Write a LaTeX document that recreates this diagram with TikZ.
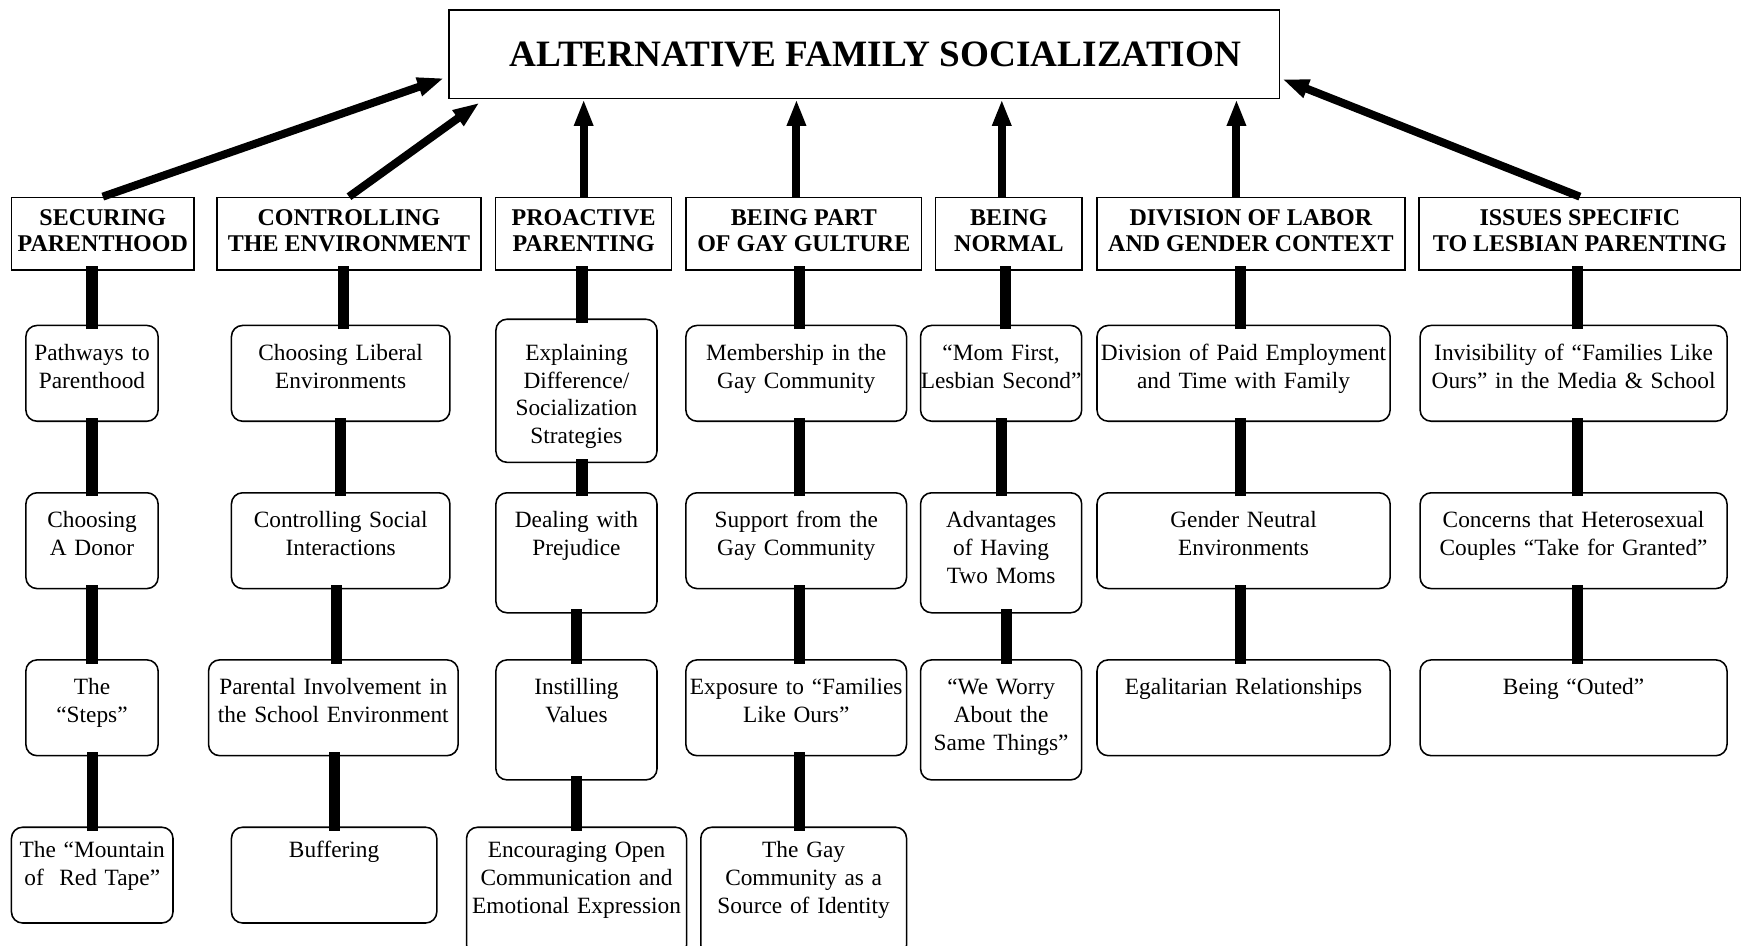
\documentclass[tikz,border=0pt]{standalone}
\usepackage{fontspec}
\setmainfont{Liberation Serif}
\usepackage{tikz}
\usetikzlibrary{positioning, arrows.meta}

\begin{document}
\begin{tikzpicture}[
  x=1pt, y=-1pt,
  title/.style={rectangle, draw, line width=0.7pt, anchor=north west, font=\bfseries\fontsize{16.75}{20}\selectfont, minimum height=39.8pt, inner sep=0pt},
  head/.style={rectangle, draw, line width=0.7pt, anchor=north west, font=\bfseries\fontsize{10.8}{12}\selectfont, align=center, minimum height=32.7pt, inner sep=0pt, text depth=3pt},
  item/.style={rectangle, rounded corners=5pt, draw, line width=0.7pt, anchor=north west, font=\fontsize{10.5}{12.5}\selectfont, align=center, text width=#1, inner xsep=0pt, inner ysep=8.25pt, text height=7.5pt, text depth=19.1pt},
  low/.style={text height=5.5pt, text depth=#1},
  bar/.style={line width=5pt, shorten <=-2pt, shorten >=-2pt},
  arr/.style={-{Triangle[length=12pt, width=8pt]}, line width=3.6pt},
]
\useasboundingbox (0,0) rectangle (783.45,425.25);
\clip (0,0) rectangle (783.45,425.25);

\node[title, minimum width=373.7pt] (title) at (201.8,4.2) {\hspace*{10pt}ALTERNATIVE FAMILY SOCIALIZATION};

\node[head, minimum width=82.2pt] (sec) at (4.8,88.5) {SECURING\\PARENTHOOD};
\node[head, minimum width=118.8pt] (ctl) at (97.3,88.5) {CONTROLLING\\THE ENVIRONMENT};
\node[head, minimum width=79.2pt] (pro) at (222.7,88.5) {PROACTIVE\\PARENTING};
\node[head, minimum width=106.1pt] (gay) at (308.3,88.5) {BEING PART\\OF GAY GULTURE};
\node[head, minimum width=65.9pt] (nor) at (420.7,88.5) {BEING\\NORMAL};
\node[head, minimum width=138.7pt] (div) at (493.2,88.5) {DIVISION OF LABOR\\AND GENDER CONTEXT};
\node[head, minimum width=144.6pt] (iss) at (638.3,88.5) {ISSUES SPECIFIC\\TO LESBIAN PARENTING};

\node[item=59.5pt] (sec1) at (11.3,146.1) {Pathways to\\Parenthood};
\node[item=59.5pt] (sec2) at (11.3,221.4) {Choosing\\A Donor};
\node[item=59.5pt] (sec3) at (11.3,296.6) {The\\“Steps”};
\node[item=72.7pt, low=21.1pt] (sec4) at (4.8,371.9) {The “Mountain\\of~ Red Tape”};

\node[item=98.3pt] (ctl1) at (103.8,146.1) {Choosing Liberal\\Environments};
\node[item=98.3pt] (ctl2) at (103.8,221.4) {Controlling Social\\Interactions};
\node[item=112.3pt] (ctl3) at (93.5,296.6) {Parental Involvement in\\the School Environment};
\node[item=92.4pt, low=21.1pt] (ctl4) at (103.8,371.9) {Buffering};

\node[item=72.5pt, text height=10.2pt, text depth=37.7pt] (pro1) at (222.8,143.3) {Explaining\\Difference/\\Socialization\\Strategies};
\node[item=72.5pt, text depth=30pt] (pro2) at (222.8,221.4) {Dealing with\\Prejudice};
\node[item=72.5pt, text depth=30pt] (pro3) at (222.8,296.6) {Instilling\\Values};
\node[item=99pt, low=36pt] (pro4) at (209.6,371.9) {Encouraging Open\\Communication and\\Emotional Expression};

\node[item=99.3pt] (gay1) at (308.3,146.1) {Membership in the\\Gay Community};
\node[item=99.3pt] (gay2) at (308.3,221.4) {Support from the\\Gay Community};
\node[item=99.3pt] (gay3) at (308.3,296.6) {Exposure to “Families\\Like Ours”};
\node[item=92.6pt, low=36pt] (gay4) at (315,371.9) {The Gay\\Community as a\\Source of Identity};

\node[item=72.5pt] (nor1) at (413.9,146.1) {“Mom First,\\Lesbian Second”};
\node[item=72.5pt, text depth=30pt] (nor2) at (413.9,221.4) {Advantages\\of Having\\Two Moms};
\node[item=72.5pt, text depth=30pt] (nor3) at (413.9,296.6) {“We Worry\\About the\\Same Things”};

\node[item=131.9pt] (div1) at (493.3,146.1) {Division of Paid Employment\\and Time with Family};
\node[item=131.9pt] (div2) at (493.3,221.4) {Gender Neutral\\Environments};
\node[item=131.9pt] (div3) at (493.3,296.6) {Egalitarian Relationships};

\node[item=138.1pt] (iss1) at (638.7,146.1) {Invisibility of “Families Like\\Ours” in the Media \& School};
\node[item=138.1pt] (iss2) at (638.7,221.4) {Concerns that Heterosexual\\Couples “Take for Granted”};
\node[item=138.1pt] (iss3) at (638.7,296.6) {Being “Outed”};

\draw[arr] (sec.north) -- ([xshift=-2pt, yshift=-10.7pt]title.west);
\draw[arr] (ctl.north) -- ([xshift=14pt, yshift=-1.5pt]title.south west);
\draw[arr] (pro.north) -- (pro.north |- title.south);
\draw[arr] ([xshift=-3.3pt]gay.north) -- ([xshift=-3.3pt]gay.north |- title.south);
\draw[arr] ([xshift=-3.2pt]nor.north) -- ([xshift=-3.2pt]nor.north |- title.south);
\draw[arr] ([xshift=-6.5pt]div.north) -- ([xshift=-6.5pt]div.north |- title.south);
\draw[arr] (iss.north) -- ([xshift=0.8pt, yshift=-11.1pt]title.east);

\draw[bar] (sec1.north) -- (sec1.north |- sec.south);
\draw[bar] (sec2.north) -- (sec2.north |- sec1.south);
\draw[bar] (sec3.north) -- (sec3.north |- sec2.south);
\draw[bar] (sec4.north) -- (sec4.north |- sec3.south);

\draw[bar] ([xshift=1.2pt]ctl1.north) -- ([xshift=1.2pt]ctl1.north |- ctl.south);
\draw[bar] (ctl2.north) -- (ctl2.north |- ctl1.south);
\draw[bar] ([xshift=1.5pt]ctl3.north) -- ([xshift=1.5pt]ctl3.north |- ctl2.south);
\draw[bar] (ctl4.north) -- (ctl4.north |- ctl3.south);

\draw[bar] ([xshift=2.5pt]pro1.north) -- ([xshift=2.5pt]pro1.north |- pro.south);
\draw[bar] ([xshift=2.5pt]pro2.north) -- ([xshift=2.5pt]pro2.north |- pro1.south);
\draw[bar] (pro3.north) -- (pro3.north |- pro2.south);
\draw[bar] (pro4.north) -- (pro4.north |- pro3.south);

\draw[bar] ([xshift=1.6pt]gay1.north) -- ([xshift=1.6pt]gay1.north |- gay.south);
\draw[bar] ([xshift=1.6pt]gay2.north) -- ([xshift=1.6pt]gay2.north |- gay1.south);
\draw[bar] ([xshift=1.6pt]gay3.north) -- ([xshift=1.6pt]gay3.north |- gay2.south);
\draw[bar] ([xshift=-1.7pt]gay4.north) -- ([xshift=-1.7pt]gay4.north |- gay3.south);

\draw[bar] ([xshift=1.8pt]nor1.north) -- ([xshift=1.8pt]nor1.north |- nor.south);
\draw[bar] (nor2.north) -- (nor2.north |- nor1.south);
\draw[bar] ([xshift=2.5pt]nor3.north) -- ([xshift=2.5pt]nor3.north |- nor2.south);

\draw[bar] ([xshift=-1.4pt]div1.north) -- ([xshift=-1.4pt]div1.north |- div.south);
\draw[bar] ([xshift=-1.4pt]div2.north) -- ([xshift=-1.4pt]div2.north |- div1.south);
\draw[bar] ([xshift=-1.4pt]div3.north) -- ([xshift=-1.4pt]div3.north |- div2.south);

\draw[bar] ([xshift=1.6pt]iss1.north) -- ([xshift=1.6pt]iss1.north |- iss.south);
\draw[bar] ([xshift=1.6pt]iss2.north) -- ([xshift=1.6pt]iss2.north |- iss1.south);
\draw[bar] ([xshift=1.6pt]iss3.north) -- ([xshift=1.6pt]iss3.north |- iss2.south);

\end{tikzpicture}
\end{document}
